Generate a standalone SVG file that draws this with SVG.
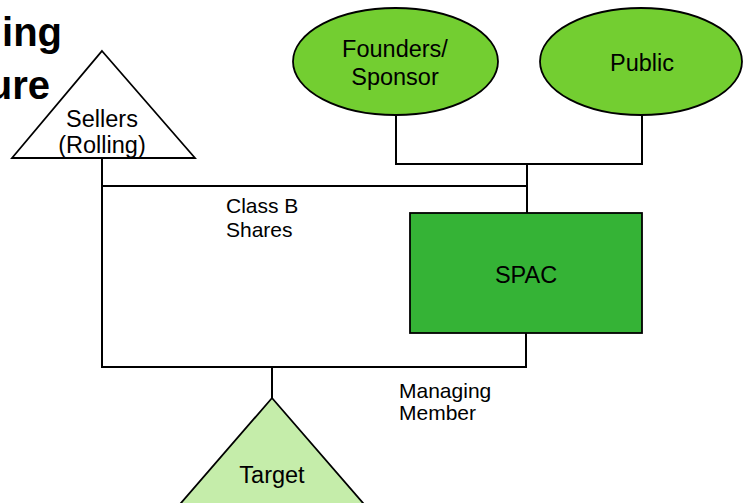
<svg xmlns="http://www.w3.org/2000/svg" width="743" height="503" viewBox="0 0 743 503">
<style>
.shape{stroke:#000;stroke-width:1.8}
.lbl{font-family:"Liberation Sans",Arial,sans-serif;font-size:23.5px;fill:#000;text-anchor:middle}
.edge{font-family:"Liberation Sans",Arial,sans-serif;font-size:21px;fill:#000}
.title{font-family:"Liberation Sans",Arial,sans-serif;font-size:40px;font-weight:bold;fill:#000;text-anchor:end}
.conn{fill:none;stroke:#000;stroke-width:2}
</style>
<rect width="743" height="503" fill="#fff"/>
<g id="title">
<text class="title" x="62" y="46">ing</text>
<text class="title" x="50" y="99">ure</text>
</g>
<g id="connectors">
<polyline class="conn" points="396,115 396,164 642,164 642,115"/>
<line class="conn" x1="527" y1="164" x2="527" y2="213"/>
<polyline class="conn" points="102,158 102,367 526,367 526,333"/>
<line class="conn" x1="102" y1="186" x2="527" y2="186"/>
<line class="conn" x1="272" y1="367" x2="272" y2="398"/>
<text class="edge" x="226" y="213">Class B</text>
<text class="edge" x="226" y="237">Shares</text>
<text class="edge" x="399" y="398">Managing</text>
<text class="edge" x="399" y="420">Member</text>
</g>
<g id="sellers">
<polygon class="shape" points="102,51 195,158 12,158" fill="#fff"/>
<text class="lbl" x="102" y="127">Sellers</text>
<text class="lbl" x="102" y="153">(Rolling)</text>
</g>
<g id="founders">
<ellipse class="shape" cx="395.5" cy="61.5" rx="102.5" ry="53.5" fill="#73CE31"/>
<text class="lbl" x="395" y="57">Founders/</text>
<text class="lbl" x="395" y="85">Sponsor</text>
</g>
<g id="public">
<ellipse class="shape" cx="641" cy="61.5" rx="101" ry="53.5" fill="#73CE31"/>
<text class="lbl" x="642" y="71">Public</text>
</g>
<g id="spac">
<rect class="shape" x="410" y="213" width="232" height="120" fill="#35B336"/>
<text class="lbl" x="526" y="283">SPAC</text>
</g>
<g id="target">
<polygon class="shape" points="272,398 402,548 142,548" fill="#C5EDAA"/>
<text class="lbl" x="272" y="483">Target</text>
</g>
</svg>
